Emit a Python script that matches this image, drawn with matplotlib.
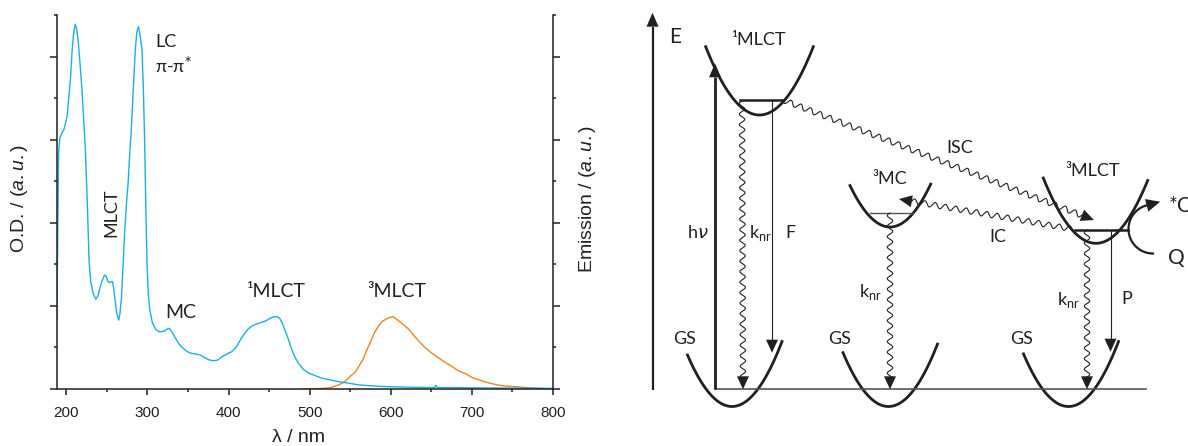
import numpy as np
import matplotlib
matplotlib.use('Agg')
import matplotlib.pyplot as plt
from matplotlib.ticker import MultipleLocator

# absorption spectrum (nm, O.D. in a.u.)
abs_wl = [188.5, 189.5, 190.5, 192, 194.5, 197, 199, 201, 203, 205, 207, 209, 211, 213, 215, 217,
          219.3, 221, 223.4, 226, 228, 230, 233, 236.3, 239, 241, 244, 247, 249, 251, 253, 255, 257,
          258.5, 260, 262, 264.5, 266, 268, 270, 272, 274.5, 276, 278, 280, 282.5, 285, 287, 289,
          291, 293.3, 295, 296.5, 298, 299.5, 301, 303, 306, 310, 314, 318, 321, 324, 327, 330, 334,
          339, 344, 349, 354, 360, 365, 370, 376, 382, 387, 392, 398, 404, 409, 414, 419, 424, 429,
          434, 440, 446, 451, 456, 460, 463, 466, 469, 473, 477, 481, 486, 492, 499, 507, 515, 525,
          535, 548, 560, 575, 590, 610, 630, 654, 655.5, 657, 690, 730, 770, 800]
abs_od = [0.85, 2.0, 2.85, 3.02, 3.08, 3.12, 3.2, 3.28, 3.5, 3.72, 4.05, 4.28, 4.39, 4.32, 4.15, 3.9,
          3.6, 3.3, 2.9, 2.2, 1.55, 1.3, 1.15, 1.08, 1.12, 1.2, 1.3, 1.37, 1.36, 1.3, 1.28, 1.29, 1.29,
          1.2, 1.08, 0.92, 0.83, 0.9, 1.1, 1.5, 1.9, 2.28, 2.45, 2.8, 3.1, 3.6, 4.08, 4.3, 4.36,
          4.25, 4.08, 3.6, 3.0, 2.2, 1.5, 1.15, 0.95, 0.8, 0.72, 0.69, 0.69, 0.7, 0.72, 0.73, 0.69, 0.62,
          0.54, 0.49, 0.45, 0.43, 0.42, 0.41, 0.38, 0.35, 0.34, 0.35, 0.39, 0.42, 0.45, 0.5, 0.58, 0.66, 0.72, 0.76,
          0.78, 0.8, 0.82, 0.85, 0.87, 0.87, 0.85, 0.8, 0.72, 0.62, 0.5, 0.4, 0.31, 0.24, 0.19, 0.16, 0.13, 0.11,
          0.09, 0.07, 0.05, 0.04, 0.03, 0.025, 0.02, 0.018, 0.045, 0.018, 0.015, 0.012, 0.01, 0.008]

# emission spectrum (nm, a.u.)
em_wl = [490, 505, 518, 527, 533, 538, 542, 547, 551, 556, 561, 566, 570, 573, 577, 580, 585, 589,
         594, 598, 603, 607, 611, 616, 622, 628, 634, 640, 647, 655, 664, 674, 683, 693, 702, 712,
         722, 731, 742, 754, 766, 778, 790, 800]
em_int = [0.0, 0.003, 0.008, 0.02, 0.04, 0.06, 0.08, 0.12, 0.16, 0.2, 0.28, 0.36, 0.46, 0.52, 0.61, 0.68, 0.76, 0.81,
          0.84, 0.86, 0.87, 0.84, 0.81, 0.77, 0.72, 0.65, 0.58, 0.52, 0.46, 0.40, 0.34, 0.28, 0.22, 0.18, 0.13, 0.10,
          0.07, 0.05, 0.035, 0.028, 0.018, 0.01, 0.004, 0.0]

x_ticks = [200, 300, 400, 500, 600, 700, 800]

INK = '#231f20'
BLUE = '#1aaee6'
ORANGE = '#f58220'
LBL = ['Lato', 'DejaVu Sans']
TCK = ['Liberation Sans', 'DejaVu Sans']

plt.rcParams['mathtext.fontset'] = 'custom'
plt.rcParams['mathtext.rm'] = 'Liberation Sans'
plt.rcParams['mathtext.it'] = 'Liberation Sans:italic'

fig = plt.figure(figsize=(11.88, 4.46), dpi=100)

# ---------- right: energy scheme, drawn in pixel units ----------
dax = fig.add_axes([0, 0, 1, 1])
dax.set_xlim(0, 1188)
dax.set_ylim(446, 0)
dax.axis('off')
dax.patch.set_visible(False)


def head(ax, tip, u, length=13, half=6):
    tip = np.asarray(tip, float)
    n = np.array([-u[1], u[0]])
    base = tip - u * length
    pts = np.array([tip, base + n * half, base - n * half])
    ax.fill(pts[:, 0], pts[:, 1], color=INK, lw=0)


def arrow(ax, p0, p1, lw=0.8, length=13, half=6):
    p0 = np.asarray(p0, float); p1 = np.asarray(p1, float)
    u = (p1 - p0) / np.hypot(*(p1 - p0))
    end = p1 - u * length
    ax.plot([p0[0], end[0]], [p0[1], end[1]], color=INK, lw=lw, solid_capstyle='butt')
    head(ax, p1, u, length, half)


def wavy(ax, p0, p1, amp=2.7, wl=10.5, lw=0.8):
    p0 = np.asarray(p0, float); p1 = np.asarray(p1, float)
    d = p1 - p0
    L = np.hypot(*d)
    u = d / L
    n = np.array([-u[1], u[0]])
    s = np.linspace(0, L - 12, int(L * 4))
    pts = p0 + np.outer(s, u) + np.outer(amp * np.sin(2 * np.pi * s / wl), n)
    ax.plot(pts[:, 0], pts[:, 1], color=INK, lw=lw)
    head(ax, p1, u)


def well(ax, xv, yv, xl, xr, k, lw=2.0):
    xs = np.linspace(xl, xr, 120)
    ax.plot(xs, yv - k * (xs - xv) ** 2, color=INK, lw=lw)


# potential wells
well(dax, 759.5, 115, 705.7, 813.3, 0.0236)
well(dax, 890, 227, 850, 930.7, 0.0259)
well(dax, 1096, 243.3, 1043.3, 1147.7, 0.0235)
for xv, xl, xr in [(732, 687.5, 782), (888.5, 843, 937.5), (1068.5, 1023.5, 1118.5)]:
    well(dax, xv, 406.5, xl, xr, 0.026)

# vibrational levels and ground line
dax.plot([740, 783], [99.5, 99.5], color=INK, lw=1.8)
dax.plot([870, 913], [212.5, 212.5], color='#555555', lw=1.0)
dax.plot([1075, 1128], [229.5, 229.5], color=INK, lw=1.8)
dax.plot([715, 1146], [389.3, 389.3], color='#555555', lw=1.2)

# energy axis and transitions
arrow(dax, (652.5, 390), (652.5, 12.7), lw=1.6, length=14)
arrow(dax, (715, 389.3), (715, 63.3), lw=2.0, length=14)
arrow(dax, (772, 100), (772, 352.7))
arrow(dax, (1110.5, 230), (1110.5, 351.7))
wavy(dax, (742, 101), (743, 389.3))
wavy(dax, (890, 213), (890, 389.3))
wavy(dax, (1087, 230), (1087, 389.3))
wavy(dax, (783, 100), (1094, 220))
wavy(dax, (1072, 229), (899, 199))

# quenching arc
th = np.radians(np.linspace(90, 255, 80))
ax_, ay_ = 1153 + 24.5 * np.cos(th), 229 + 24.5 * np.sin(th)
dax.plot(ax_, ay_, color=INK, lw=1.6)
u = np.array([-np.sin(th[-1]), np.cos(th[-1])])
head(dax, (ax_[-1] + u[0] * 14, ay_[-1] + u[1] * 14), u, length=14, half=6.5)

kw = dict(ha='center', va='center', color=INK, family=LBL, fontsize=13)
dax.text(675, 37, 'E', **{**kw, 'fontsize': 15})
dax.text(758, 40, '¹MLCT', **kw)
dax.text(890, 179, '³MC', **kw)
dax.text(1093, 171.5, '³MLCT', **kw)
dax.text(698, 233, 'h$\\nu$', math_fontfamily='dejavusans', **kw)
dax.text(760, 233, 'k$_{\\mathregular{nr}}$', **kw)
dax.text(870, 292, 'k$_{\\mathregular{nr}}$', **kw)
dax.text(1068, 300, 'k$_{\\mathregular{nr}}$', **kw)
dax.text(790, 233, 'F', **kw)
dax.text(1127, 298.5, 'P', **kw)
dax.text(960, 148, 'ISC', **kw)
dax.text(998, 237, 'IC', **kw)
for gx in [685, 840, 1022]:
    dax.text(gx, 339, 'GS', **kw)
dax.text(1169, 206, '*Q', **{**kw, 'ha': 'left', 'fontsize': 15})
dax.text(1168, 258, 'Q', **{**kw, 'ha': 'left', 'fontsize': 15})

# ---------- left: absorption / emission spectra ----------
ax = fig.add_axes([57 / 1188, 1 - 389 / 446, 496 / 1188, 374 / 446])
ax.patch.set_visible(False)
ax.plot(em_wl, em_int, color=ORANGE, lw=1.0)
ax.plot(abs_wl, abs_od, color=BLUE, lw=1.0)
ax.set_xlim(188.5, 800)
ax.set_ylim(0, 4.5)
ax.set_xticks(x_ticks)
ax.xaxis.set_minor_locator(MultipleLocator(50))
ax.yaxis.set_major_locator(MultipleLocator(1))
ax.yaxis.set_minor_locator(MultipleLocator(0.5))
ax.spines['top'].set_visible(False)
for s in ['left', 'right', 'bottom']:
    ax.spines[s].set_color(INK)
    ax.spines[s].set_linewidth(1.1)
ax.tick_params(axis='both', which='both', direction='out', color=INK, width=1.1)
ax.tick_params(axis='y', which='both', left=True, right=True, labelleft=False)
ax.tick_params(axis='y', which='major', length=5)
ax.tick_params(axis='y', which='minor', length=2.5)
ax.tick_params(axis='x', which='major', length=4.3, pad=8)
ax.tick_params(axis='x', which='minor', length=2.3)
for t in ax.get_xticklabels():
    t.set_family(TCK)
    t.set_fontsize(11)
    t.set_color(INK)

lk = dict(color=INK, family=LBL, fontsize=13, va='center')
ax.text(309.6, 4.18, 'LC', ha='left', **lk)
ax.text(309.6, 3.89, 'π-π$^{*}$', ha='left', math_fontfamily='dejavusans', **lk)
ax.text(256, 2.12, 'MLCT', ha='center', rotation=90, **lk)
ax.text(340.4, 0.92, 'MC', ha='center', **{**lk, 'fontsize': 14})
ax.text(458.7, 1.17, '¹MLCT', ha='center', **{**lk, 'fontsize': 14})
ax.text(607.8, 1.17, '³MLCT', ha='center', **{**lk, 'fontsize': 14})

fig.text(298 / 1188, 1 - 437 / 446, 'λ / nm', ha='center', va='center',
         family=TCK, fontsize=14, color=INK)
fig.text(20 / 1188, 1 - 198 / 446, 'O.D. / ($\\mathit{a.u.}$)', ha='center', va='center',
         rotation=90, family=TCK, fontsize=14, color=INK)
fig.text(587 / 1188, 1 - 199 / 446, 'Emission / ($\\mathit{a.u.}$)', ha='center', va='center',
         rotation=90, family=TCK, fontsize=14, color=INK)

fig.savefig('out.png', dpi=100)
